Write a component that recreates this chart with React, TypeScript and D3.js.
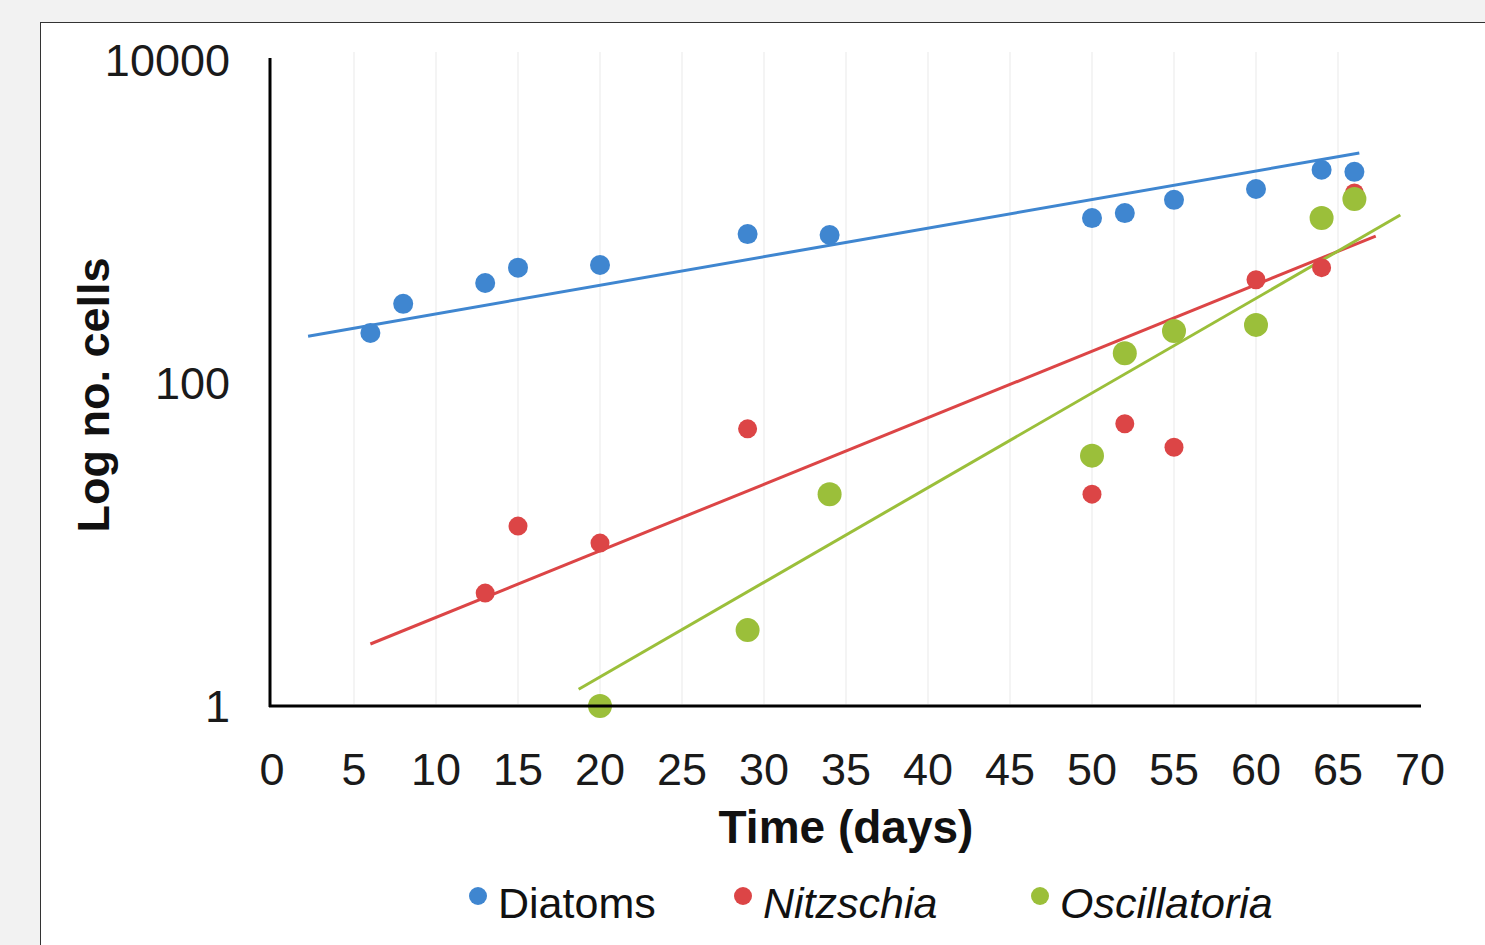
import React from 'react';
import * as d3 from 'd3';

// days sampled for each series
const diatomDays = [6, 8, 13, 15, 20, 29, 34, 50, 52, 55, 60, 64, 66];
const diatomCells = [204, 309, 416, 518, 538, 836, 825, 1050, 1127, 1362, 1590, 2090, 2030];

const nitzschiaDays = [13, 15, 20, 29, 50, 52, 55, 60, 64, 66];
const nitzschiaCells = [5.0, 13, 10.2, 52, 20.5, 56, 40, 436, 518, 1500];

const oscillatoriaDays = [20, 29, 34, 50, 52, 55, 60, 64, 66];
const oscillatoriaCells = [1, 2.95, 20.5, 35.5, 153, 210, 229, 1050, 1380];

// exponential trendlines as [day, cells] endpoints
const diatomTrend = [[2.2, 195], [66.3, 2655]];
const nitzschiaTrend = [[6, 2.42], [67.3, 813]];
const oscillatoriaTrend = [[18.7, 1.27], [68.8, 1096]];

const xTicks = [0, 5, 10, 15, 20, 25, 30, 35, 40, 45, 50, 55, 60, 65, 70];
const yTicks = [1, 100, 10000];

const series = [
  { name: 'Diatoms', days: diatomDays, cells: diatomCells, trend: diatomTrend, color: '#3f86d0', r: 10 },
  { name: 'Nitzschia', days: nitzschiaDays, cells: nitzschiaCells, trend: nitzschiaTrend, color: '#dc4546', r: 9.5 },
  { name: 'Oscillatoria', days: oscillatoriaDays, cells: oscillatoriaCells, trend: oscillatoriaTrend, color: '#9bbf3a', r: 12 },
];

const FONT = '"Liberation Sans", Arial, sans-serif';

export default function App() {
  const width = 1485;
  const height = 945;

  const x = d3.scaleLinear().domain([0, 70]).range([272, 1420]);
  const y = d3.scaleLog().domain([1, 10000]).range([706, 60]);

  const line = d3.line<number[]>()
    .x(d => x(d[0]))
    .y(d => y(d[1]));

  const legendX = [478, 743, 1040];

  return (
    <svg width={width} height={height} style={{ position: 'absolute', left: 0, top: 0 }}>
      <rect x={0} y={0} width={width} height={height} fill="#f2f2f2" />
      {/* chart panel */}
      <rect x={40.5} y={22.5} width={width} height={height} fill="#ffffff" stroke="#333" strokeWidth={1} />

      {/* faint vertical gridlines */}
      {xTicks.slice(1, -1).map(t => (
        <line key={t} x1={x(t)} x2={x(t)} y1={52} y2={704} stroke="#f4f4f4" strokeWidth={2} />
      ))}

      {/* trendlines */}
      {series.map(s => (
        <path key={s.name + '-trend'} d={line(s.trend) || ''} fill="none" stroke={s.color} strokeWidth={3} />
      ))}

      {/* points */}
      {series.map(s => (
        <g key={s.name}>
          {s.days.map((d, i) => (
            <circle key={i} cx={x(d)} cy={y(s.cells[i])} r={s.r} fill={s.color} />
          ))}
        </g>
      ))}

      {/* axes */}
      <line x1={270} x2={270} y1={58} y2={707} stroke="#000" strokeWidth={3} />
      <line x1={269} x2={1421} y1={706} y2={706} stroke="#000" strokeWidth={3} />

      {yTicks.map(t => (
        <text key={t} x={230} y={y(t) + 16} textAnchor="end" fontFamily={FONT} fontSize={45} fill="#1a1a1a">
          {t}
        </text>
      ))}
      {xTicks.map(t => (
        <text key={t} x={x(t)} y={785} textAnchor="middle" fontFamily={FONT} fontSize={45} fill="#1a1a1a">
          {t}
        </text>
      ))}

      <text x={846} y={843} textAnchor="middle" fontFamily={FONT} fontSize={46} fontWeight="bold" fill="#111">
        Time (days)
      </text>
      <text
        transform="translate(109,395) rotate(-90)"
        textAnchor="middle"
        fontFamily={FONT}
        fontSize={45}
        fontWeight="bold"
        fill="#111"
      >
        Log no. cells
      </text>

      {/* legend */}
      {series.map((s, i) => (
        <g key={s.name + '-legend'}>
          <circle cx={legendX[i]} cy={896} r={9} fill={s.color} />
          <text
            x={legendX[i] + 20}
            y={918}
            fontFamily={FONT}
            fontSize={43}
            fontStyle={i === 0 ? 'normal' : 'italic'}
            fill="#111"
          >
            {s.name}
          </text>
        </g>
      ))}
    </svg>
  );
}
